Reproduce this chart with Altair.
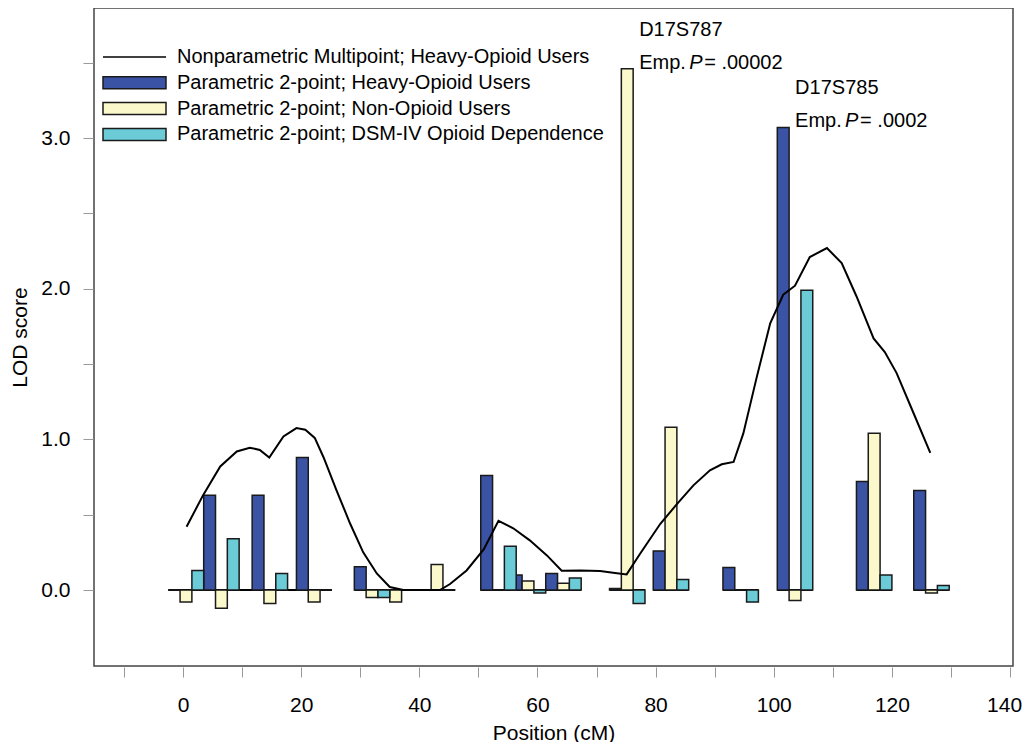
import altair as alt
import pandas as pd

# ---------------- data ----------------
series_names = [
    "Nonparametric Multipoint; Heavy-Opioid Users",
    "Parametric 2-point; Heavy-Opioid Users",
    "Parametric 2-point; Non-Opioid Users",
    "Parametric 2-point; DSM-IV Opioid Dependence",
]
series_colors = ["#000000", "#3A53A4", "#FBF8CC", "#6BCCD8"]
outline_colors = ["transparent", "#1a1a1a", "#1a1a1a", "#1a1a1a"]

# marker positions (cM) of the heavy-opioid bar of each marker triplet
marker_pos = [-1.5, 4.5, 12.7, 20.2, 30.0, 34.0, 41.0, 51.4, 56.4, 62.4,
              73.2, 80.6, 92.4, 101.6, 115.0, 124.7]
lod_heavy = [0.0, 0.63, 0.63, 0.88, 0.155, 0.0, 0.0, 0.76, 0.10, 0.11,
             0.01, 0.26, 0.15, 3.07, 0.72, 0.66]
lod_non = [-0.08, -0.12, -0.09, -0.08, -0.05, -0.08, 0.17, 0.0, 0.06, 0.045,
           3.46, 1.08, 0.0, -0.07, 1.04, -0.02]
lod_dsm = [0.13, 0.34, 0.11, 0.0, -0.05, 0.0, 0.0, 0.29, -0.02, 0.08,
           -0.09, 0.07, -0.08, 1.99, 0.10, 0.03]

# nonparametric multipoint curve
curve_pos = [0.6, 3.4, 6.3, 9.1, 11.3, 13.0, 14.6, 17.0, 19.2, 20.7, 22.3, 23.8,
             26.0, 28.3, 30.5, 32.8, 35.0, 37.3, 39.6, 43.5, 45.2, 48.0, 50.9,
             53.4, 55.9, 58.7, 61.6, 64.1, 67.2, 70.6, 72.8, 75.1, 77.4, 80.8,
             83.6, 86.4, 89.2, 91.2, 93.2, 94.85, 97.1, 99.4, 101.6, 103.6,
             106.1, 109.0, 111.5, 114.0, 116.9, 118.8, 120.8, 123.6, 126.5]
curve_lod = [0.42, 0.63, 0.82, 0.92, 0.945, 0.93, 0.88, 1.02, 1.075, 1.064, 1.01,
             0.88, 0.66, 0.44, 0.25, 0.11, 0.02, 0.0, 0.0, 0.0, 0.04, 0.13, 0.27,
             0.46, 0.41, 0.33, 0.23, 0.128, 0.13, 0.126, 0.115, 0.104, 0.243,
             0.44, 0.57, 0.695, 0.795, 0.835, 0.85, 1.04, 1.41, 1.77, 1.96, 2.02,
             2.21, 2.27, 2.17, 1.95, 1.67, 1.58, 1.44, 1.18, 0.91]

# zero baseline segments under the marker groups
base_start = [-2.5, 29.0, 39.8, 50.4, 72.2, 79.6, 91.4, 100.6, 114.0, 123.7]
base_end = [25.2, 39.3, 46.1, 67.4, 78.2, 85.6, 97.4, 106.6, 120.0, 129.7]

# annotations
ann_marker = ["D17S787", "D17S785"]
ann_p = ["= .00002", "= .0002"]
ann_series_idx = [2, 1]      # which bar carries the annotation
ann_marker_idx = [10, 13]

# ---------------- tables ----------------
rows = []
for s_i, (vals, off) in enumerate([(lod_heavy, 0.0), (lod_non, 2.0), (lod_dsm, 4.0)]):
    for p, v in zip(marker_pos, vals):
        c = p + off
        rows.append({"series": series_names[s_i + 1], "x0": c - 1.0, "x1": c + 1.0,
                     "lod": v})
bars = pd.DataFrame(rows)
curve = pd.DataFrame({"pos": curve_pos, "lod": curve_lod})
base = pd.DataFrame({"a": base_start, "b": base_end})
legend_df = pd.DataFrame({"series": series_names, "series_o": series_names})

ann_rows = []
for name, ptxt, si, mi in zip(ann_marker, ann_p, ann_series_idx, ann_marker_idx):
    vals = [lod_heavy, lod_non, lod_dsm][si - 1]
    ctr = marker_pos[mi] + 2.0 * (si - 1)
    ann_rows.append({"x": ctr + 1.0, "y": vals[mi], "name": name, "p": ptxt})
ann = pd.DataFrame(ann_rows)

# ---------------- scales / axes ----------------
FONT = "Liberation Sans"
xscale = alt.Scale(domain=[-15.07, 140.5], nice=False, zero=False)
yscale = alt.Scale(domain=[-0.504, 3.863], nice=False, zero=False)

xaxis = alt.Axis(
    values=list(range(-10, 141, 10)),
    labelExpr="datum.value % 20 == 0 ? datum.label : ''",
    labelOffset={"condition": {"test": "datum.value == 140", "value": -6}, "value": 0},
    title="Position (cM)", grid=False, domain=False,
    tickColor="#999999", tickSize=10, tickWidth=1, offset=1,
    labelFontSize=21, labelFont=FONT, labelColor="black", labelPadding=17,
    labelFlush=False, labelOverlap=False,
    titleFontSize=21, titleFont=FONT, titleFontWeight="normal", titleColor="black",
    titleY=66, titleBaseline="middle",
)
yaxis = alt.Axis(
    values=[0, 0.5, 1, 1.5, 2, 2.5, 3, 3.5],
    labelExpr="datum.value % 1 == 0 ? format(datum.value, '.1f') : ''",
    title="LOD score", grid=False, domain=False,
    tickColor="#999999", tickSize=10, tickWidth=1, offset=1,
    labelFontSize=21, labelFont=FONT, labelColor="black", labelPadding=13,
    labelFlush=False, labelOverlap=False,
    titleFontSize=21, titleFont=FONT, titleFontWeight="normal", titleColor="black",
    titleX=-73, titleBaseline="middle",
)

line_path = "M-3,-0.07H3V0.07H-3Z"
rect_path = "M-3,-0.57H3V0.57H-3Z"
common_legend = dict(
    title=None, orient="none", legendX=29, legendY=37.5, direction="vertical",
    labelFontSize=20, labelFont=FONT, labelOffset=31, labelLimit=700,
    symbolSize=441, symbolStrokeWidth=1.5, rowPadding=3.8, padding=0,
)
legend = alt.Legend(labelColor="black", symbolOpacity=1, **common_legend)
legend_outline = alt.Legend(labelColor="transparent", symbolType=rect_path,
                            symbolFillColor="transparent", **common_legend)

fill_scale = alt.Scale(domain=series_names, range=series_colors)
outline_scale = alt.Scale(domain=series_names, range=outline_colors)
shape_scale = alt.Scale(domain=series_names, range=[line_path, rect_path, rect_path, rect_path])

# ---------------- layers ----------------
baseline = alt.Chart(base).mark_rule(color="black", strokeWidth=2).encode(
    x=alt.X("a:Q", scale=xscale, axis=xaxis),
    x2="b:Q",
    y=alt.datum(0),
)

bar_layer = alt.Chart(bars).mark_bar(stroke="#1a1a1a", strokeWidth=1.5).encode(
    x=alt.X("x0:Q", scale=xscale, axis=xaxis),
    x2="x1:Q",
    y=alt.Y("lod:Q", scale=yscale, axis=yaxis),
    y2=alt.datum(0),
    fill=alt.Fill("series:N", scale=fill_scale, legend=legend),
)

line_layer = alt.Chart(curve).mark_line(color="black", strokeWidth=2).encode(
    x=alt.X("pos:Q", scale=xscale),
    y=alt.Y("lod:Q", scale=yscale),
)

# helper marks that only feed the legends (placed outside the canvas)
legend_layer = alt.Chart(legend_df).mark_point(filled=True).encode(
    x=alt.value(-400),
    y=alt.value(-400),
    fill=alt.Fill("series:N", scale=fill_scale, legend=legend),
    shape=alt.Shape("series:N", scale=shape_scale, legend=legend),
)
outline_layer = alt.Chart(legend_df).mark_point(filled=False, strokeWidth=1.5).encode(
    x=alt.value(-400),
    y=alt.value(-400),
    stroke=alt.Stroke("series_o:N", scale=outline_scale, legend=legend_outline),
)

ann_base = alt.Chart(ann).encode(
    x=alt.X("x:Q", scale=xscale),
    y=alt.Y("y:Q", scale=yscale),
)
t_name = ann_base.mark_text(align="left", baseline="alphabetic", dx=6, dy=-33,
                            font=FONT, fontSize=20, color="black").encode(text="name:N")
t_emp = ann_base.mark_text(align="left", baseline="alphabetic", dx=6, dy=0,
                           font=FONT, fontSize=20, color="black").encode(text=alt.value("Emp."))
t_P = ann_base.mark_text(align="left", baseline="alphabetic", dx=56, dy=0,
                         font=FONT, fontSize=20, fontStyle="italic",
                         color="black").encode(text=alt.value("P"))
t_val = ann_base.mark_text(align="left", baseline="alphabetic", dx=71, dy=0,
                           font=FONT, fontSize=20, color="black").encode(text="p:N")

chart = alt.layer(
    baseline, bar_layer, line_layer, legend_layer, outline_layer,
    t_name, t_emp, t_P, t_val
).properties(
    width=919, height=658,
    autosize="none",
    padding={"left": 86, "top": 0, "right": 10, "bottom": 76},
).configure_view(
    stroke="#444444", strokeWidth=1.5
)

chart.save("out.html", embed_options={"renderer": "svg", "actions": False})
